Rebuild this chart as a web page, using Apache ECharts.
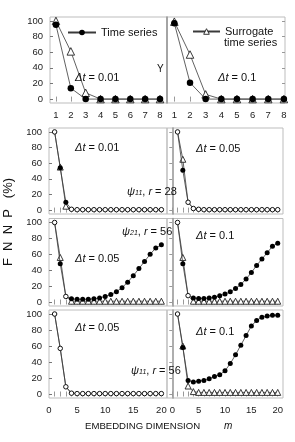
<!DOCTYPE html>
<html><head><meta charset="utf-8">
<script src="https://cdn.jsdelivr.net/npm/echarts@6/dist/echarts.min.js"></script>
<style>html,body{margin:0;padding:0;background:#fff}#c{width:295px;height:442px}</style>
</head><body><div id="c"></div>
<script>
// ---- data ----
const topM = [1, 2, 3, 4, 5, 6, 7, 8];
const lowM = [1, 2, 3, 4, 5, 6, 7, 8, 9, 10, 11, 12, 13, 14, 15, 16, 17, 18, 19, 20];
const topTicksX = [1, 2, 3, 4, 5, 6, 7, 8];
const lowTicksX = [0, 5, 10, 15, 20];
const yTicks = [0, 20, 40, 60, 80, 100];

// top row: Y, dt=0.01 / dt=0.1
const aTs  = [95, 14, 0, 0, 0, 0, 0, 0];
const aSur = [100, 61, 8, 0, 0, 0, 0, 0];
const bTs  = [97, 21, 0, 0, 0, 0, 0, 0];
const bSur = [99, 57, 6, 0, 0, 0, 0, 0];
// psi11, r=28 : dt=0.01 / dt=0.05
const cTs  = [100, 54, 10, 1, 0.5, 0.5, 0.5, 0.5, 0.5, 0.5, 0.5, 0.5, 0.5, 0.5, 0.5, 0.5, 0.5, 0.5, 0.5, 0.5];
const cSur = [100, 55, 5, 1, 0.5, 0.5, 0.5, 0.5, 0.5, 0.5, 0.5, 0.5, 0.5, 0.5, 0.5, 0.5, 0.5, 0.5, 0.5, 0.5];
const dTs  = [100, 51, 10, 2, 1, 0.5, 0.5, 0.5, 0.5, 0.5, 0.5, 0.5, 0.5, 0.5, 0.5, 0.5, 0.5, 0.5, 0.5, 0.5];
const dSur = [100, 65, 10, 2, 1, 0.5, 0.5, 0.5, 0.5, 0.5, 0.5, 0.5, 0.5, 0.5, 0.5, 0.5, 0.5, 0.5, 0.5, 0.5];
// psi21, r=56 : dt=0.05 / dt=0.1
const eTs  = [100, 48, 7, 4, 3.5, 3.5, 3.5, 4, 5, 7, 9.5, 13, 18, 25, 33, 42, 51, 60, 68, 72];
const eSur = [100, 56, 7, 1, 1, 1, 1, 1, 1, 1, 1, 1, 1, 1, 1, 1, 1, 1, 1, 1];
const fTs  = [100, 48, 8, 5, 4.5, 4.5, 5, 6, 8, 10, 13, 17, 22, 29, 37, 46, 54, 62, 70, 74];
const fSur = [100, 56, 8, 1, 1, 1, 1, 1, 1, 1, 1, 1, 1, 1, 1, 1, 1, 1, 1, 1];
// psi11, r=56 : dt=0.05 / dt=0.1
const gTs  = [100, 57, 9, 1, 0.5, 0.5, 0.5, 0.5, 0.5, 0.5, 0.5, 0.5, 0.5, 0.5, 0.5, 0.5, 0.5, 0.5, 0.5, 0.5];
const gSur = [100, 57, 9, 1, 0.5, 0.5, 0.5, 0.5, 0.5, 0.5, 0.5, 0.5, 0.5, 0.5, 0.5, 0.5, 0.5, 0.5, 0.5, 0.5];
const hTs  = [100, 58, 17, 15, 16, 17, 19, 22, 24, 29, 38, 49, 61, 73, 85, 92, 96, 97.5, 98.5, 98.5];
const hSur = [100, 60, 10, 3, 2, 2, 2, 2, 2, 2, 2, 2, 2, 2, 2, 2, 2, 2, 2, 2];

// ---- layout ----
const FONT = "'Liberation Sans', Arial, sans-serif";
const panels = [
  {g:{left:50, top:17, width:117, height:86}, xmin:0.6, xmax:8.47, m:topM, ts:aTs, sur:aSur, side:'L', top:true, labels:topTicksX, big:true},
  {g:{left:167, top:17, width:118, height:86}, xmin:0.53, xmax:8.07, m:topM, ts:bTs, sur:bSur, side:'R', top:true, labels:topTicksX, big:true},
  {g:{left:49, top:128, width:118, height:86}, xmin:0, xmax:21, m:lowM, ts:cTs, sur:cSur, side:'L'},
  {g:{left:167, top:128, width:116, height:86}, xmin:-1, xmax:21, m:lowM, ts:dTs, sur:dSur, side:'R'},
  {g:{left:49, top:218.5, width:118, height:87.5}, xmin:0, xmax:21, m:lowM, ts:eTs, sur:eSur, side:'L'},
  {g:{left:167, top:218.5, width:116, height:87.5}, xmin:-1, xmax:21, m:lowM, ts:fTs, sur:fSur, side:'R'},
  {g:{left:49, top:310, width:118, height:88}, xmin:0, xmax:21, m:lowM, ts:gTs, sur:gSur, side:'L', labels:lowTicksX},
  {g:{left:167, top:310, width:116, height:88}, xmin:-1, xmax:21, m:lowM, ts:hTs, sur:hSur, side:'R', labels:lowTicksX},
];

const grid = [], xAxis = [], yAxis = [], series = [];
const lineStyle = {color:'#3a3a3a', width:0.8};
panels.forEach((p, i) => {
  grid.push(Object.assign({show:true, borderColor:'#bdbdbd', borderWidth:1, containLabel:false}, p.g));
  const intTicks = [];
  for (let v = Math.ceil(p.xmin); v <= Math.floor(p.xmax); v++) if (v > p.xmin && v < p.xmax) intTicks.push(v);
  const minorTicks = p.top ? topTicksX : intTicks;
  xAxis.push({
    gridIndex:i, type:'value', min:p.xmin, max:p.xmax, position:'bottom',
    axisLine:{show:false}, splitLine:{show:false},
    axisTick:{show:true, inside:true, length:2.5, customValues:minorTicks, lineStyle:{color:'#999'}},
    axisLabel:{show:!!p.labels, customValues:p.labels || [], margin:7, fontSize:9.5, color:'#222', fontFamily:FONT}
  });
  xAxis.push({
    gridIndex:i, type:'value', min:p.xmin, max:p.xmax, position:'top',
    axisLine:{show:false}, splitLine:{show:false},
    axisTick:{show:true, inside:true, length:2.5, customValues:minorTicks, lineStyle:{color:'#999'}},
    axisLabel:{show:false}
  });
  yAxis.push({
    gridIndex:i, type:'value', min:-5, max:105, position:'left',
    axisLine:{show:p.side === 'R', lineStyle:{color:'#9a9a9a', width:1.6}},
    splitLine:{show:false},
    axisTick:{show:p.side === 'L', inside:true, length:3, customValues:yTicks, lineStyle:{color:'#777'}},
    axisLabel:{show:p.side === 'L', customValues:yTicks, margin:7, fontSize:9.5, color:'#222', fontFamily:FONT}
  });
  yAxis.push({
    gridIndex:i, type:'value', min:-5, max:105, position:'right',
    axisLine:{show:false}, splitLine:{show:false},
    axisTick:{show:p.side === 'R', inside:true, length:3, customValues:yTicks, lineStyle:{color:'#999'}},
    axisLabel:{show:false}
  });
  const dotSize = p.big ? 6.5 : 5;
  const triSize = p.big ? 7.5 : 6;
  const surData = p.m.map((m, k) => {
    const same = !p.big && p.ts[k] === p.sur[k];
    return same ? {value:[m, p.sur[k]], symbolSize:0} : [m, p.sur[k]];
  });
  const tsData = p.m.map((m, k) => {
    const same = !p.big && p.ts[k] === p.sur[k];
    return same ? {value:[m, p.ts[k]], symbolSize:4.5, itemStyle:{color:'#fff', borderColor:'#111', borderWidth:1}} : [m, p.ts[k]];
  });
  series.push({
    name:'Surrogate time series', type:'line', xAxisIndex:2*i, yAxisIndex:2*i, clip:false,
    data:surData, symbol:'triangle', symbolSize:triSize, showAllSymbol:true,
    itemStyle:{color:'#fff', borderColor:'#222', borderWidth:0.9}, lineStyle:lineStyle, z:2, animation:false
  });
  series.push({
    name:'Time series', type:'line', xAxisIndex:2*i, yAxisIndex:2*i, clip:false,
    data:tsData, symbol:'circle', symbolSize:dotSize, showAllSymbol:true,
    itemStyle:{color:'#000', borderColor:'#000', borderWidth:0}, lineStyle:lineStyle, z:3, animation:false
  });
});

function dt(txt, x, y) {
  return {type:'text', left:x, top:y, z:10, style:{
    text:'{i|Δt}{n| = ' + txt + '}',
    rich:{i:{fontStyle:'italic', fontSize:11, fontFamily:FONT, fill:'#111'}, n:{fontSize:11, fontFamily:FONT, fill:'#111'}}
  }};
}
function psi(sub, r, x, y) {
  return {type:'text', left:x, top:y, z:10, style:{
    text:'{i|ψ}{s|' + sub + '}{n|, }{i|r}{n| = ' + r + '}',
    rich:{
      i:{fontStyle:'italic', fontSize:11, fontFamily:FONT, fill:'#111'},
      s:{fontStyle:'italic', fontSize:7, fontFamily:FONT, fill:'#111', verticalAlign:'bottom', padding:[4,0,0,0]},
      n:{fontSize:11, fontFamily:FONT, fill:'#111'}
    }
  }};
}

const graphic = [
  dt('0.01', 75, 72), dt('0.1', 218, 72),
  {type:'text', left:157, top:64, z:10, style:{text:'Y', fontSize:10, fontFamily:FONT, fill:'#111'}},
  {type:'text', left:224, top:37, z:10, style:{text:'time series', fontSize:11, fontFamily:FONT, fill:'#111'}},
  dt('0.01', 75, 142), dt('0.05', 196, 143),
  psi('11', '28', 127, 186),
  psi('21', '56', 122, 226),
  dt('0.05', 75, 253), dt('0.1', 196, 230),
  dt('0.05', 75, 322), dt('0.1', 196, 326),
  psi('11', '56', 131, 365),
  {type:'text', left:85, top:421, style:{text:'EMBEDDING DIMENSION', fontSize:9.6, fontFamily:FONT, fill:'#111'}},
  {type:'text', left:224, top:421, style:{text:'m', fontSize:10, fontStyle:'italic', fontFamily:FONT, fill:'#111'}},
  {type:'text', x:2, y:222, rotation:Math.PI/2, style:{text:'F  N  N  P   (%)', fontSize:13, fontFamily:FONT, fill:'#111', align:'center', verticalAlign:'top'}}
];

const chart = echarts.init(document.getElementById('c'), null, {renderer:'canvas'});
chart.setOption({
  animation:false,
  backgroundColor:'#fff',
  grid, xAxis, yAxis, series, graphic,
  legend:[
    {data:['Time series'], left:62, top:22, itemWidth:28, itemHeight:7, itemGap:5,
     itemStyle:{color:'#000', borderWidth:0},
     textStyle:{fontSize:11, fontFamily:FONT, color:'#111'}, selectedMode:false},
    {data:['Surrogate time series'], left:187, top:21, itemWidth:27, itemHeight:7, itemGap:5,
     itemStyle:{color:'#fff', borderColor:'#222', borderWidth:0.9},
     formatter:function(){return 'Surrogate';},
     textStyle:{fontSize:11, fontFamily:FONT, color:'#111'}, selectedMode:false}
  ]
});
</script></body></html>
